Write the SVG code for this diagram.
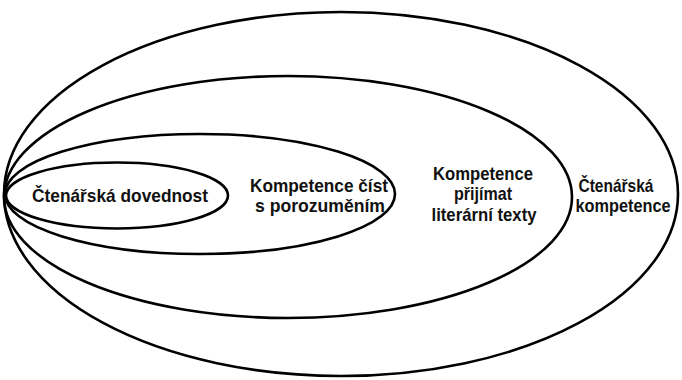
<svg xmlns="http://www.w3.org/2000/svg" width="682" height="380" viewBox="0 0 682 380">
<style>
.e{fill:none;stroke:#000;stroke-width:2.6}
.t{font-family:"Liberation Sans",Arial,sans-serif;font-weight:bold;font-size:18.5px;fill:#111;text-anchor:middle}
</style>
<rect width="682" height="380" fill="#fff"/>
<g id="ctenarska-kompetence">
<ellipse class="e" cx="341" cy="194" rx="337" ry="182"/>
<text class="t" x="616" y="192" textLength="75" lengthAdjust="spacingAndGlyphs">Čtenářská</text>
<text class="t" x="623" y="212" textLength="95" lengthAdjust="spacingAndGlyphs">kompetence</text>
</g>
<g id="kompetence-prijimat">
<ellipse class="e" cx="288" cy="197" rx="284" ry="121"/>
<text class="t" x="483" y="180" textLength="100" lengthAdjust="spacingAndGlyphs">Kompetence</text>
<text class="t" x="483" y="200" textLength="58" lengthAdjust="spacingAndGlyphs">přijímat</text>
<text class="t" x="484" y="221" textLength="105" lengthAdjust="spacingAndGlyphs">literární texty</text>
</g>
<g id="kompetence-cist">
<ellipse class="e" cx="200" cy="194" rx="195" ry="60"/>
<text class="t" x="319" y="192" textLength="138" lengthAdjust="spacingAndGlyphs">Kompetence číst</text>
<text class="t" x="320" y="212" textLength="130" lengthAdjust="spacingAndGlyphs">s porozuměním</text>
</g>
<g id="ctenarska-dovednost">
<ellipse class="e" cx="117" cy="195.5" rx="111" ry="33"/>
<text class="t" x="120" y="202" textLength="176" lengthAdjust="spacingAndGlyphs">Čtenářská dovednost</text>
</g>
</svg>
